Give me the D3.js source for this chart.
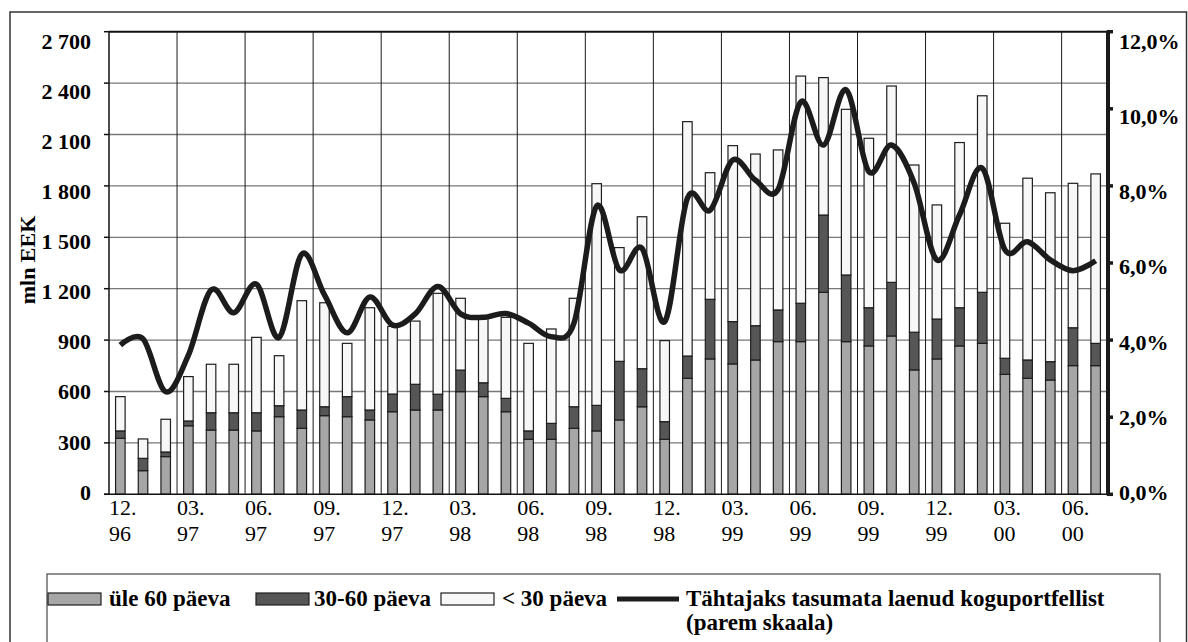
<!DOCTYPE html>
<html>
<head>
<meta charset="utf-8">
<script src="https://cdnjs.cloudflare.com/ajax/libs/d3/7.8.5/d3.min.js"></script>
<style>
  body { margin: 0; background: #fff; }
  svg { display: block; font-family: "Liberation Serif", "Times New Roman", serif; }
</style>
</head>
<body>
<script>
// Months on the x axis (12.96 .. 07.00)
var months = ["12.96", "01.97", "02.97", "03.97", "04.97", "05.97", "06.97", "07.97", "08.97", "09.97", "10.97", "11.97",
  "12.97", "01.98", "02.98", "03.98", "04.98", "05.98", "06.98", "07.98", "08.98", "09.98", "10.98", "11.98",
  "12.98", "01.99", "02.99", "03.99", "04.99", "05.99", "06.99", "07.99", "08.99", "09.99", "10.99", "11.99",
  "12.99", "01.00", "02.00", "03.00", "04.00", "05.00", "06.00", "07.00"];

// Overdue loans, mln EEK
var over60 = [327, 138, 220, 400, 375, 375, 370, 453, 385, 459, 453, 434,
  482, 492, 492, 599, 570, 482, 321, 321, 385, 370, 434, 511,
  321, 677, 790, 761, 784, 891, 891, 1179, 891, 866, 924, 726,
  790, 866, 881, 700, 677, 667, 751, 751];
var days30to60 = [43, 72, 27, 28, 101, 101, 106, 64, 107, 52, 117, 58,
  103, 150, 92, 126, 81, 78, 49, 93, 126, 149, 342, 222,
  103, 130, 348, 247, 200, 185, 224, 451, 389, 223, 313, 220,
  233, 223, 298, 94, 107, 107, 221, 130];
var under30 = [200, 113, 191, 259, 283, 283, 440, 292, 638, 607, 311, 597,
  395, 369, 589, 419, 379, 473, 511, 551, 633, 1294, 664, 887,
  473, 1368, 739, 1027, 1002, 934, 1326, 802, 967, 989, 1146, 976,
  666, 964, 1147, 788, 1061, 986, 843, 989];

// Share of overdue loans in total portfolio, % (right scale)
var overdueShare = [3.87, 4.03, 2.66, 3.61, 5.30, 4.71, 5.45, 4.07, 6.23, 5.17, 4.19, 5.12,
  4.39, 4.68, 5.39, 4.68, 4.59, 4.69, 4.44, 4.09, 4.44, 7.48, 5.82, 6.38,
  4.48, 7.68, 7.37, 8.67, 8.15, 7.91, 10.18, 9.06, 10.49, 8.37, 9.06, 8.07,
  6.08, 7.25, 8.46, 6.34, 6.55, 6.08, 5.80, 6.06];

var leftTicks = [0, 300, 600, 900, 1200, 1500, 1800, 2100, 2400, 2700];
var rightTicks = [0, 2, 4, 6, 8, 10, 12];
var seriesNames = ["üle 60 päeva", "30-60 päeva", "< 30 päeva"];
var lineName = ["Tähtajaks tasumata laenud koguportfellist", "(parem skaala)"];

var width = 1188, height = 642;
var plot = { left: 109, right: 1107, top: 31.7, bottom: 494.3 };
var colors = { over60: "#a6a6a6", mid: "#565656", under30: "#f7f7f7" };

var svg = d3.select("body").append("svg")
  .attr("width", width)
  .attr("height", height);

// Outer frame and legend frame
svg.append("rect")
  .attr("x", 10).attr("y", 12)
  .attr("width", 1176.5).attr("height", 700)
  .attr("fill", "none").attr("stroke", "#333").attr("stroke-width", 1.5);

svg.append("rect")
  .attr("x", 47).attr("y", 574)
  .attr("width", 1113).attr("height", 120)
  .attr("fill", "none").attr("stroke", "#555").attr("stroke-width", 1.3);

// Scales
var x = d3.scaleBand()
  .domain(months)
  .range([plot.left, plot.right])
  .paddingInner(0.58)
  .paddingOuter(0.29);
var step = x.step();

var y = d3.scaleLinear().domain([0, 2700]).range([plot.bottom, plot.top]);
var yRight = d3.scaleLinear().domain([0, 12]).range([plot.bottom, plot.top]);
// tick labels sit slightly off the grid in the original
var yLab = d3.scaleLinear().domain([0, 2700]).range([492, 40.8]);
var yRightLab = d3.scaleLinear().domain([0, 12]).range([492, 41.5]);

// Horizontal grid
svg.append("g")
  .selectAll("line")
  .data(leftTicks.slice(1))
  .enter().append("line")
  .attr("x1", plot.left).attr("x2", plot.right)
  .attr("y1", d => y(d)).attr("y2", d => y(d))
  .attr("stroke", d => d === 2700 ? "#111" : "#777")
  .attr("stroke-width", d => d === 2700 ? 2 : 1.3);

// Vertical grid every quarter
var quarterIdx = d3.range(0, months.length, 3);
svg.append("g")
  .selectAll("line")
  .data(quarterIdx.slice(1))
  .enter().append("line")
  .attr("x1", i => plot.left + i * step).attr("x2", i => plot.left + i * step)
  .attr("y1", plot.top).attr("y2", plot.bottom)
  .attr("stroke", "#1a1a1a").attr("stroke-width", 1);

// Stacked bars
var table = months.map((m, i) => ({ month: m, over60: over60[i], mid: days30to60[i], under30: under30[i] }));
var stack = d3.stack().keys(["over60", "mid", "under30"])(table);

svg.append("g")
  .selectAll("g")
  .data(stack)
  .enter().append("g")
  .attr("fill", d => colors[d.key])
  .selectAll("rect")
  .data(d => d)
  .enter().append("rect")
  .attr("x", d => x(d.data.month))
  .attr("width", x.bandwidth())
  .attr("y", d => y(d[1]))
  .attr("height", d => y(d[0]) - y(d[1]))
  .attr("stroke", "#1e1e1e")
  .attr("stroke-width", 1.2);

// Line (right scale)
var line = d3.line()
  .x((d, i) => x(months[i]) + x.bandwidth() / 2)
  .y(d => yRight(d))
  .curve(d3.curveCardinal.tension(0));

svg.append("path")
  .datum(overdueShare)
  .attr("d", line)
  .attr("fill", "none")
  .attr("stroke", "#1c1c1c")
  .attr("stroke-width", 5.5)
  .attr("stroke-linejoin", "round");

// Left axis
svg.append("line")
  .attr("x1", plot.left).attr("x2", plot.left)
  .attr("y1", plot.top).attr("y2", plot.bottom)
  .attr("stroke", "#111").attr("stroke-width", 1.5);
svg.append("g")
  .selectAll("line")
  .data(leftTicks)
  .enter().append("line")
  .attr("x1", plot.left - 5).attr("x2", plot.left)
  .attr("y1", d => y(d)).attr("y2", d => y(d))
  .attr("stroke", "#111").attr("stroke-width", 1.5);
svg.append("g")
  .selectAll("text")
  .data(leftTicks)
  .enter().append("text")
  .attr("x", 91)
  .attr("y", d => yLab(d))
  .attr("dy", "0.35em")
  .attr("text-anchor", "end")
  .style("font-size", "22px")
  .style("font-weight", "bold")
  .text(d => d3.format(",")(d).replace(",", " "));

// Bottom axis
svg.append("line")
  .attr("x1", plot.left - 5).attr("x2", plot.right)
  .attr("y1", plot.bottom).attr("y2", plot.bottom)
  .attr("stroke", "#111").attr("stroke-width", 1.5);

var xLabels = svg.append("g")
  .selectAll("text")
  .data(quarterIdx)
  .enter().append("text")
  .attr("x", i => plot.left + i * step)
  .attr("y", 515)
  .style("font-size", "22px");
xLabels.append("tspan").text(i => months[i].slice(0, 3));
xLabels.append("tspan")
  .attr("x", i => plot.left + i * step)
  .attr("dy", 26)
  .text(i => months[i].slice(3));

// Right axis
svg.append("line")
  .attr("x1", plot.right + 1).attr("x2", plot.right + 1)
  .attr("y1", plot.top - 1).attr("y2", plot.bottom + 1)
  .attr("stroke", "#1a1a1a").attr("stroke-width", 4);
svg.append("g")
  .selectAll("line")
  .data(rightTicks)
  .enter().append("line")
  .attr("x1", plot.right).attr("x2", plot.right + 6)
  .attr("y1", d => yRight(d)).attr("y2", d => yRight(d))
  .attr("stroke", "#1a1a1a").attr("stroke-width", 3.5);
svg.append("g")
  .selectAll("text")
  .data(rightTicks)
  .enter().append("text")
  .attr("x", 1119)
  .attr("y", d => yRightLab(d))
  .attr("dy", "0.35em")
  .style("font-size", "22px")
  .style("font-weight", "bold")
  .text(d => d3.format(".1f")(d).replace(".", ",") + "%");

// Axis title
svg.append("text")
  .attr("transform", "translate(35,260) rotate(-90)")
  .attr("text-anchor", "middle")
  .style("font-size", "22px")
  .style("font-weight", "bold")
  .text("mln EEK");

// Legend
var legendSwatches = [
  { x: 48, fill: colors.over60, label: seriesNames[0], tx: 109 },
  { x: 256, fill: colors.mid, label: seriesNames[1], tx: 314 },
  { x: 441, fill: colors.under30, label: seriesNames[2], tx: 502 }
];
var legend = svg.append("g");
legend.selectAll("rect")
  .data(legendSwatches)
  .enter().append("rect")
  .attr("x", d => d.x).attr("y", 593)
  .attr("width", 53).attr("height", 12)
  .attr("fill", d => d.fill)
  .attr("stroke", "#1e1e1e").attr("stroke-width", 1.2);
legend.selectAll("text.item")
  .data(legendSwatches)
  .enter().append("text")
  .attr("class", "item")
  .attr("x", d => d.tx).attr("y", 606)
  .style("font-size", "23px")
  .style("font-weight", "bold")
  .text(d => d.label);

legend.append("line")
  .attr("x1", 617).attr("x2", 679)
  .attr("y1", 599).attr("y2", 599)
  .attr("stroke", "#1c1c1c").attr("stroke-width", 5);
legend.selectAll("text.line")
  .data(lineName)
  .enter().append("text")
  .attr("class", "line")
  .attr("x", 686)
  .attr("y", (d, i) => 606 + i * 24)
  .style("font-size", "23px")
  .style("font-weight", "bold")
  .text(d => d);
</script>
</body>
</html>
